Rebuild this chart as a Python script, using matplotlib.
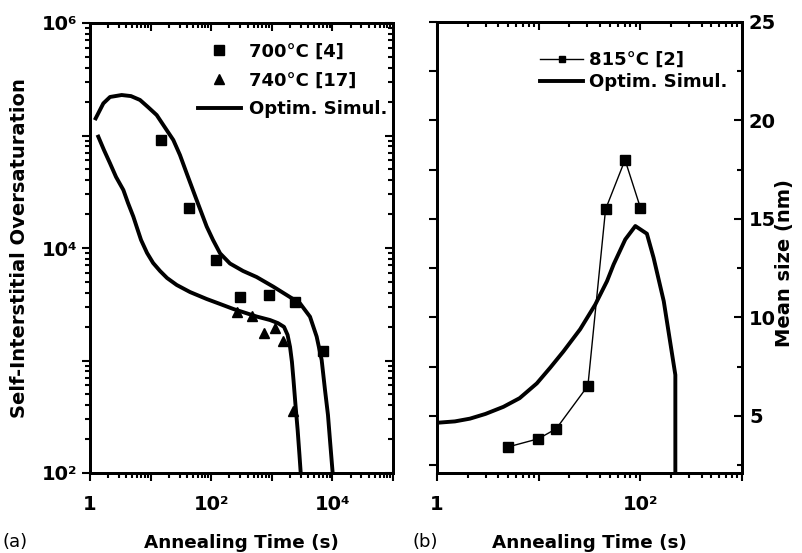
import matplotlib
matplotlib.use('Agg')
import matplotlib.pyplot as plt
from matplotlib.ticker import FixedLocator, FuncFormatter, LogLocator, MultipleLocator, NullFormatter

# panel (a): self-interstitial oversaturation vs annealing time
t_700 = [14.8, 43, 120, 299, 910, 2440, 7080]
s_700 = [9.1e4, 2.28e4, 7.8e3, 3.65e3, 3.85e3, 3.3e3, 1.21e3]
t_740 = [270, 477, 752, 1130, 1550, 2260]
s_740 = [2.68e3, 2.49e3, 1.77e3, 1.96e3, 1.49e3, 356]

# optimised simulation, 700 C
sim700_t = [1.24, 1.66, 2.14, 3.33, 4.75, 6.68, 9.06, 12.6, 16.2, 23.7, 30.5, 39.4,
            57.5, 84.3, 107, 140, 204, 335, 562, 1060, 1760, 2920, 4270, 5500,
            6650, 7550, 8450, 9120, 10100]
sim700_s = [1.42e5, 1.93e5, 2.20e5, 2.29e5, 2.24e5, 2.07e5, 1.79e5, 1.52e5, 1.24e5,
            9.12e4, 6.71e4, 4.61e4, 2.67e4, 1.55e4, 1.18e4, 8.97e3, 7.28e3, 6.25e3,
            5.52e3, 4.53e3, 3.82e3, 3.22e3, 2.45e3, 1.63e3, 1.01e3, 547, 328, 196, 100]
# optimised simulation, 740 C
sim740_t = [1.37, 1.70, 2.14, 2.69, 3.55, 4.24, 5.19, 5.97, 6.95, 8.73, 11.0, 14.3,
            18.7, 27.0, 44.7, 84.3, 140, 232, 562, 933, 1260, 1590, 1820, 2000,
            2150, 2280, 2460, 2670, 2860, 3000]
sim740_s = [9.77e4, 7.43e4, 5.66e4, 4.28e4, 3.28e4, 2.51e4, 1.90e4, 1.51e4, 1.18e4,
            9.04e3, 7.36e3, 6.25e3, 5.41e3, 4.69e3, 4.06e3, 3.52e3, 3.18e3, 2.87e3,
            2.46e3, 2.29e3, 2.15e3, 1.99e3, 1.69e3, 1.32e3, 970, 671, 402, 241, 145, 100]

# panel (b): mean cluster size vs annealing time
t_815 = [4.97, 9.96, 14.9, 30.5, 45.5, 70.7, 100]
d_815 = [3.42, 3.84, 4.35, 6.53, 15.49, 18.0, 15.58]
simb_t = [1.0, 1.5, 2.11, 3.0, 4.5, 6.5, 9.59, 13, 17.5, 25.6, 36.0, 47.0, 54.6,
          71.1, 89.3, 116, 135, 170, 221, 221]
simb_d = [4.65, 4.72, 4.86, 5.1, 5.46, 5.9, 6.65, 7.45, 8.27, 9.4, 10.65, 11.84,
          12.69, 13.96, 14.64, 14.25, 13.03, 10.82, 7.08, 1.0]

labels_a_x = {1: '1', 1e2: '10\u00b2', 1e4: '10\u2074'}
labels_a_y = {1e2: '10\u00b2', 1e4: '10\u2074', 1e6: '10\u2076'}
labels_b_x = {1: '1', 1e2: '10\u00b2'}

plt.rcParams['font.family'] = 'DejaVu Sans'
plt.rcParams['font.weight'] = 'bold'

TICK = dict(width=1.5, labelsize=14)
MAJ = 6
MIN = 3.5


def fmt_from(table):
    def f(v, pos):
        for k, s in table.items():
            if abs(v - k) < 1e-6 * k:
                return s
        return ''
    return FuncFormatter(f)


def log_ticks(axis, lo, hi, table):
    axis.set_major_locator(FixedLocator([10.0 ** e for e in range(lo, hi + 1)]))
    axis.set_minor_locator(LogLocator(base=10, subs=range(2, 10), numticks=20))
    axis.set_major_formatter(fmt_from(table))
    axis.set_minor_formatter(NullFormatter())


fig = plt.figure(figsize=(8.02, 5.53), dpi=100)
axa = fig.add_axes([90 / 802, 80 / 553, 303 / 802, 450 / 553])
axb = fig.add_axes([437 / 802, 80 / 553, 305 / 802, 451 / 553])

# ---- (a)
h700, = axa.plot(t_700, s_700, 's', color='black', ms=6.5, ls='none')
h740, = axa.plot(t_740, s_740, '^', color='black', ms=7, ls='none')
hsim, = axa.plot(sim700_t, sim700_s, '-', color='black', lw=2.8)
axa.plot(sim740_t, sim740_s, '-', color='black', lw=2.8)
axa.set_xscale('log')
axa.set_yscale('log')
axa.set_xlim(1, 1e5)
axa.set_ylim(1e2, 1e6)
log_ticks(axa.xaxis, 0, 5, labels_a_x)
log_ticks(axa.yaxis, 2, 6, labels_a_y)
axa.tick_params(which='both', direction='out', top=False, right=False, **TICK)
axa.tick_params(which='major', length=MAJ)
axa.tick_params(which='minor', length=MIN)
axa.tick_params(axis='x', pad=10)
axa.tick_params(axis='y', pad=3)
axa.set_xlabel('Annealing Time (s)', fontsize=13.2, fontweight='bold', labelpad=14)
axa.set_ylabel('Self-Interstitial Oversaturation', fontsize=14, fontweight='bold', labelpad=9)

axa_r = axa.twinx()
axa_r.set_yscale('log')
axa_r.set_ylim(axa.get_ylim())
log_ticks(axa_r.yaxis, 2, 6, {})
axa_r.tick_params(which='both', direction='in', labelright=False, **TICK)
axa_r.tick_params(which='major', length=MAJ)
axa_r.tick_params(which='minor', length=MIN)

axa_t = axa.twiny()
axa_t.set_xscale('log')
axa_t.set_xlim(axa.get_xlim())
log_ticks(axa_t.xaxis, 0, 5, {})
axa_t.tick_params(which='both', direction='in', labeltop=False, **TICK)
axa_t.tick_params(which='major', length=MAJ)
axa_t.tick_params(which='minor', length=MIN)

axa.legend([h700, h740, hsim], ['700\u00b0C [4]', '740\u00b0C [17]', 'Optim. Simul.'],
           loc='upper right', bbox_to_anchor=(1.0, 0.968), frameon=False,
           prop={'weight': 'bold', 'size': 13},
           handlelength=2.4, handletextpad=0.45, labelspacing=0.6,
           borderaxespad=0, borderpad=0.3, numpoints=1)

# ---- (b)
h815, = axb.plot(t_815, d_815, 's-', color='black', ms=6.5, lw=1.0)
hsimb, = axb.plot(simb_t, simb_d, '-', color='black', lw=2.8)
axb.set_xscale('log')
axb.set_xlim(1, 1e3)
axb.set_ylim(2.1, 25)
log_ticks(axb.xaxis, 0, 3, labels_b_x)
axb.yaxis.set_major_locator(MultipleLocator(2.5))
axb.yaxis.set_major_formatter(NullFormatter())
axb.tick_params(which='both', direction='out', top=False, right=False, **TICK)
axb.tick_params(which='major', length=MAJ)
axb.tick_params(which='minor', length=MIN)
axb.tick_params(axis='x', pad=10)
axb.set_xlabel('Annealing Time (s)', fontsize=13.2, fontweight='bold', labelpad=14)

axb_r = axb.twinx()
axb_r.set_ylim(axb.get_ylim())
axb_r.yaxis.set_major_locator(MultipleLocator(5))
axb_r.yaxis.set_minor_locator(MultipleLocator(2.5))
axb_r.tick_params(which='both', direction='in', **TICK)
axb_r.tick_params(which='major', length=MAJ)
axb_r.tick_params(which='minor', length=MIN)
axb_r.tick_params(axis='y', pad=5)
axb_r.set_ylabel('Mean size (nm)', fontsize=14, fontweight='bold', labelpad=-1, y=0.466)

axb_t = axb.twiny()
axb_t.set_xscale('log')
axb_t.set_xlim(axb.get_xlim())
log_ticks(axb_t.xaxis, 0, 3, {})
axb_t.tick_params(which='both', direction='in', labeltop=False, **TICK)
axb_t.tick_params(which='major', length=MAJ)
axb_t.tick_params(which='minor', length=MIN)

axb.legend([h815, hsimb], ['815\u00b0C [2]', 'Optim. Simul.'],
           loc='upper right', bbox_to_anchor=(0.969, 0.948), frameon=False,
           prop={'weight': 'bold', 'size': 13},
           handlelength=2.4, handletextpad=0.3, labelspacing=0.25,
           borderaxespad=0, borderpad=0.3, numpoints=1, markerscale=0.7)

for ax in (axa, axa_r, axa_t, axb, axb_r, axb_t):
    for sp in ax.spines.values():
        sp.set_linewidth(2)

fig.text(2 / 802, 1 - 547 / 553, '(a)', fontsize=13, fontweight='normal', va='baseline')
fig.text(412 / 802, 1 - 547 / 553, '(b)', fontsize=13, fontweight='normal', va='baseline')

fig.savefig('out.png', dpi=100)
